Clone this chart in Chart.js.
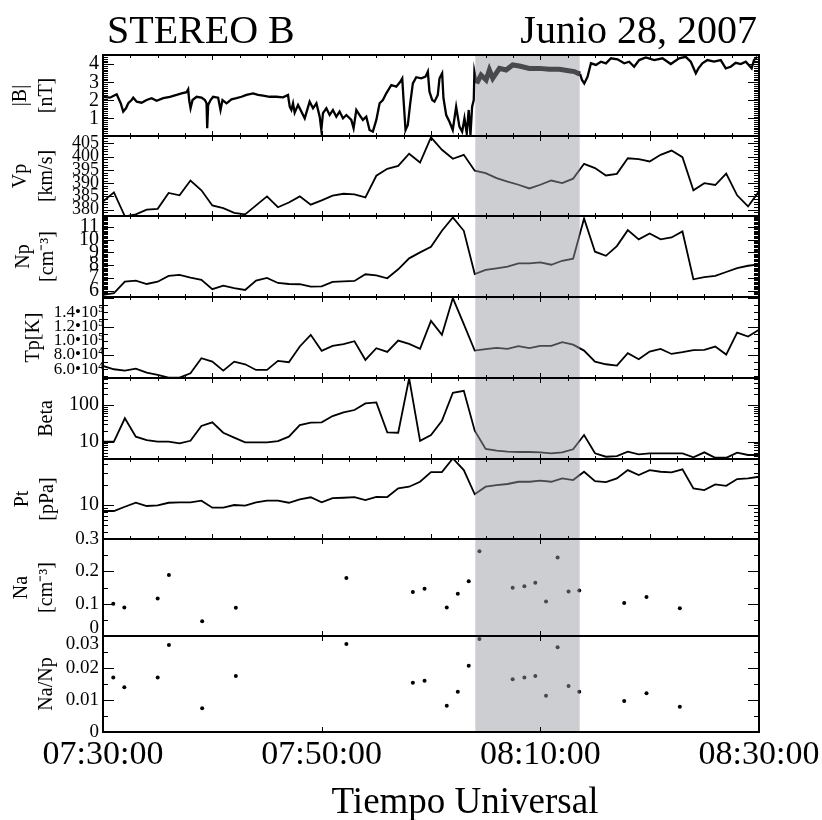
<!DOCTYPE html>
<html><head><meta charset="utf-8">
<script src="https://cdn.jsdelivr.net/npm/chart.js@4.4.1/dist/chart.umd.min.js"></script>
<style>html,body{margin:0;padding:0;background:#fff;}canvas{display:block;}</style>
</head><body>
<canvas id="c" width="822" height="820"></canvas>
<script>
// ---------------- DATA (minutes after 07:30:00 UT) ----------------
const MINUTES = [0,1,2,3,4,5,6,7,8,9,10,11,12,13,14,15,16,17,18,19,20,21,22,23,24,25,26,27,28,29,30,
  31,32,33,34,35,36,37,38,39,40,41,42,43,44,45,46,47,48,49,50,51,52,53,54,55,56,57,58,59,60];

const B_T = [0,0.64,1.25,1.62,1.85,2.10,2.31,2.62,2.77,3.08,3.53,3.99,4.45,4.90,5.51,6.12,6.73,7.19,7.64,7.79,
  7.88,8.01,8.19,8.56,9.01,9.32,9.47,9.53,9.62,9.84,10.07,10.53,10.75,10.93,11.30,11.75,12.21,12.67,13.12,13.73,
  14.18,14.64,15.25,15.86,16.47,16.92,17.08,17.23,17.38,17.53,17.84,18.45,18.90,19.21,19.52,19.82,19.97,20.12,20.43,20.73,
  21.03,21.34,21.64,21.95,22.26,22.71,22.92,23.17,23.47,23.77,24.08,24.38,24.68,25.00,25.30,25.60,25.91,26.37,26.82,27.19,
  27.37,27.49,27.67,27.88,28.10,28.34,28.65,29.11,29.50,29.71,29.86,30.11,30.32,30.62,30.78,31.02,31.14,31.39,31.69,31.99,
  32.30,32.60,32.85,33.06,33.27,33.45,33.61,33.76,33.91,33.97,34.18,34.58,35.04,35.34,35.65,36.26,36.87,37.47,38.08,39.00,
  39.91,40.82,41.74,42.58,43.11,43.41,43.63,43.81,44.02,44.32,44.63,45.09,45.54,46.00,46.46,47.06,47.67,48.13,48.58,49.04,
  49.65,50.41,51.17,51.93,52.69,53.30,53.76,54.22,54.46,54.82,55.28,55.89,56.50,56.96,57.41,57.87,58.33,58.79,59.33,59.54,59.84];
const B_VAL = [2.20,2.15,2.34,1.84,1.38,1.56,1.84,2.02,2.15,1.93,1.87,2.02,2.12,1.98,2.12,2.20,2.30,2.39,2.45,2.61,
  2.02,1.56,2.02,2.20,2.15,2.02,1.84,0.46,1.75,2.02,2.20,2.15,1.47,2.02,1.84,2.06,2.12,2.20,2.30,2.39,
  2.30,2.26,2.20,2.20,2.17,2.30,1.65,1.47,1.84,1.32,1.75,1.01,1.93,1.56,1.84,1.10,0.36,1.29,1.56,1.19,
  1.47,1.10,1.38,1.01,1.19,0.92,0.46,1.47,1.19,0.92,1.10,0.36,0.27,0.92,1.84,2.02,2.39,2.85,2.76,3.03,
  3.22,2.02,0.36,0.64,1.84,2.94,3.28,3.22,3.31,3.59,2.48,2.02,1.93,2.30,3.22,3.50,2.12,1.19,0.82,0.36,
  1.65,0.55,0.27,1.01,0.18,1.47,0.09,1.65,2.02,3.59,2.94,3.40,3.13,3.68,3.22,3.77,3.68,3.96,3.90,3.77,
  3.77,3.72,3.72,3.64,3.59,3.50,3.46,3.13,2.94,3.31,4.05,3.96,4.14,4.05,4.33,4.27,4.05,4.14,3.86,4.23,
  4.38,4.23,4.33,4.01,4.33,4.41,4.14,3.50,3.77,4.05,4.23,4.14,4.23,3.77,3.86,4.08,4.01,4.14,3.77,4.23,4.41];

const VP = [383.1,386.5,377.5,378.2,380.0,380.3,386.3,385.4,391.0,387.3,381.6,380.6,378.8,378.2,381.6,385.0,380.9,382.7,385.0,381.9,
  383.5,385.3,386.0,385.8,384.6,392.8,395.4,396.5,401.1,397.8,407.3,402.6,399.2,400.7,394.7,393.8,391.9,390.6,389.4,388.0,
  389.4,391.0,390.0,391.7,397.3,395.7,392.9,393.5,399.4,399.1,398.2,400.7,402.3,399.8,387.3,390.0,389.3,393.6,385.4,381.2,386.9];
const NP = [5.66,5.80,6.70,6.78,6.52,6.70,7.15,7.23,7.02,6.84,6.11,6.39,6.19,6.05,6.78,6.99,6.60,6.52,6.50,6.31,
  6.34,6.68,6.73,6.76,7.28,7.20,6.97,7.67,8.53,9.00,9.44,10.69,11.73,10.69,7.30,7.62,7.75,7.88,8.14,8.14,
  8.22,8.03,8.34,8.50,11.66,9.05,8.73,9.49,10.74,10.02,10.48,10.02,10.17,10.64,6.89,7.05,7.15,7.46,7.77,7.95,8.06];
const TP = [64600,60000,58000,60800,55200,52000,48200,48200,54400,75500,70700,58000,70700,67000,59000,59000,71700,69900,92000,108300,
  85800,92800,95200,99400,73100,89600,84400,100300,95600,88600,128000,108300,160000,123400,86200,88200,90000,88600,92400,89600,
  92800,92800,98000,94600,86200,70700,67000,65100,82500,74100,84800,88600,81500,83900,86800,87200,91800,80600,111500,105900,115400];
const BETA = [10.0,10.0,43.5,13.7,11.1,10.0,10.0,9.0,10.6,26.8,33.8,17.6,12.9,9.6,9.6,9.6,10.4,13.7,28.5,33.0,
  33.8,50.1,63.2,73.1,111,118,18.0,17.6,535,10.6,15.2,37.3,216,245,20.0,6.33,5.69,5.34,5.24,5.24,
  5.14,4.83,5.14,6.21,15.2,4.83,3.90,4.07,5.34,4.54,4.83,4.83,4.83,4.83,3.76,5.14,3.66,3.66,5.01,4.35,4.35];
const PT = [8.16,8.16,9.44,10.8,9.67,9.90,10.8,10.96,10.96,11.6,9.13,9.13,10.0,9.77,10.96,11.6,11.6,10.8,12.1,13.0,
  10.96,12.6,12.8,13.1,11.8,13.2,13.1,17.6,18.6,22.0,30.5,30.5,48.6,32.7,14.4,18.6,19.7,20.4,22.0,22.0,
  22.8,22.0,24.7,23.3,30.9,22.5,21.8,24.7,32.7,27.6,32.7,30.9,30.3,33.5,17.6,16.6,20.1,19.2,24.1,24.7,26.1];

const NA_T = [0.94,1.95,5.00,6.03,9.07,12.15,22.26,28.34,29.41,31.44,32.45,33.45,34.43,37.47,38.54,39.54,40.52,41.58,42.58,43.56,47.67,49.71,52.76];
const NA   = [0.100,0.088,0.116,0.189,0.046,0.087,0.179,0.136,0.146,0.088,0.131,0.169,0.262,0.149,0.154,0.165,0.107,0.243,0.138,0.141,0.102,0.121,0.086];
const NANP = [0.0170,0.0140,0.0170,0.0272,0.0074,0.0175,0.0275,0.0154,0.0160,0.0082,0.0126,0.0207,0.0291,0.0165,0.0170,0.0175,0.0113,0.0265,0.0144,0.0126,0.0097,0.0121,0.0079];

const X_TICKS  = [0,20,40,60];
const X_LABELS = ['07:30:00','07:50:00','08:10:00','08:30:00'];
const SHADE = [34.05, 43.6];

const B_TICKS = [1,2,3,4];
const VP_TICKS = [380,385,390,395,400,405];
const NP_TICKS = [6,7,8,9,10,11];
const TP_TICKS = [60000,80000,100000,120000,140000];
const TP_LABELS = ['6.0\u202210\u2074','8.0\u202210\u2074','1.0\u202210\u2075','1.2\u202210\u2075','1.4\u202210\u2075'];
const BETA_TICKS = [10,100];
const PT_TICKS = [10];
const NA_TICKS = [0,0.1,0.2,0.3];
const NANP_TICKS = [0,0.01,0.02,0.03];

// ---------------- STYLE / LAYOUT ----------------
const FONT = "'Liberation Serif','Times New Roman',Times,serif";
function seq(a,b,s){const r=[];for(let v=a;v<=b+1e-9;v+=s)r.push(+v.toFixed(6));return r;}
const logMinor = (decades)=>{const r=[];decades.forEach(d=>{for(let k=2;k<=9;k++)r.push(k*d);});return r;};
const X_MINOR = seq(2.5,57.5,2.5);
const X_MID = [10,20,30,40,50];

const PANELS = [
 {id:'yB',   h:81, min:0.03, max:4.51, labels:B_TICKS, fs:20, titles:[['|B|',21],['[nT]',47]],
  major:B_TICKS, minor:seq(0.1,4.5,0.1), fmt:v=>String(v)},
 {id:'yVp',  h:80, min:377.6, max:407.8, labels:VP_TICKS, fs:18, titles:[['Vp',21],['[km/s]',47]],
  major:VP_TICKS, minor:seq(378,407,1), fmt:v=>String(v)},
 {id:'yNp',  h:81, min:5.5, max:11.85, labels:NP_TICKS, fs:20, titles:[['Np',24],['[cm\u207B\u00B3]',48]],
  major:NP_TICKS, minor:seq(5.6,11.8,0.1), fmt:v=>String(v)},
 {id:'yTp',  h:81, min:47700, max:161500, labels:TP_TICKS, fs:17, pad:-1, titles:[['Tp[K]',34]],
  major:[80000,120000,160000], minor:seq(50000,160000,10000), fmt:(v,i)=>TP_LABELS[i]},
 {id:'yBeta',h:81, min:3.38, max:545, log:true, labels:BETA_TICKS, fs:20, titles:[['Beta',47]],
  major:BETA_TICKS, minor:logMinor([1,10,100]).filter(v=>v>=4&&v<=500), fmt:v=>String(v)},
 {id:'yPt',  h:80, min:3.16, max:47.6, log:true, labels:PT_TICKS, fs:20, titles:[['Pt',23],['[pPa]',48]],
  major:PT_TICKS, minor:[4,5,6,7,8,9,20,30,40], fmt:v=>String(v)},
 {id:'yNa',  h:97, min:0, max:0.3, labels:NA_TICKS, fs:19, lh:0.8, titles:[['Na',22],['[cm\u207B\u00B3]',47]],
  major:[0.1,0.2], minor:[0.05,0.15,0.25], xt:[20,40], fmt:v=>v===0?['0','']:String(v)},
 {id:'yNaNp',h:96, min:0, max:0.03, labels:NANP_TICKS, fs:19, lh:0.8, titles:[['Na/Np',47]],
  major:[0.01,0.02], minor:[0.005,0.015,0.025], xt:[20,40], fmt:v=>v===0.03?['','0.03']:String(v)}
];

function yAxis(p,i){
  return {
    type:p.log?'logarithmic':'linear', position:'left', stack:'panels', stackWeight:p.h, weight:20-i,
    min:p.min, max:p.max, offset:false,
    grid:{display:false,drawTicks:false}, border:{display:false},
    ticks:{autoSkip:false,color:'#000',padding:(p.pad!==undefined?p.pad:4),
      font:{family:FONT,size:p.fs,lineHeight:p.lh||1.2}, callback:(v,idx)=>p.fmt(v,idx)},
    afterBuildTicks:s=>{s.ticks=p.labels.map(v=>({value:v}));},
    afterFit:s=>{s.width=103;}
  };
}
const scales = {
  x:{type:'linear',position:'bottom',min:0,max:60,offset:false,
    grid:{display:false,drawTicks:false},border:{display:false},
    ticks:{autoSkip:false,maxRotation:0,minRotation:0,color:'#000',padding:3,font:{family:FONT,size:34},
      callback:(v,i)=>X_LABELS[i]},
    afterBuildTicks:s=>{s.ticks=X_TICKS.map(v=>({value:v}));},
    afterFit:s=>{s.height=88;s.paddingLeft=0;s.paddingRight=0;}}
};
PANELS.forEach((p,i)=>{scales[p.id]=yAxis(p,i);});

const xy = (ts,vs)=>ts.map((t,i)=>({x:t,y:vs[i]}));
const lineDs = (id,data,extra)=>Object.assign({type:'line',data,yAxisID:id,xAxisID:'x',borderColor:'#000',
  borderWidth:1.8,pointRadius:0,tension:0,fill:false},extra||{});
const dotDs = (id,data)=>({type:'scatter',data,yAxisID:id,xAxisID:'x',pointRadius:2,pointBorderWidth:0,
  pointBackgroundColor:'#000',showLine:false});

const inShade = c=>c.p0.parsed.x>=SHADE[0]&&c.p1.parsed.x<=SHADE[1]+0.05;

const datasets = [
  lineDs('yB',xy(B_T,B_VAL),{borderWidth:2.3,segment:{borderWidth:c=>inShade(c)?5:2.3}}),
  lineDs('yVp',xy(MINUTES,VP)),
  lineDs('yNp',xy(MINUTES,NP)),
  lineDs('yTp',xy(MINUTES,TP)),
  lineDs('yBeta',xy(MINUTES,BETA)),
  lineDs('yPt',xy(MINUTES,PT)),
  dotDs('yNa',xy(NA_T,NA)),
  dotDs('yNaNp',xy(NA_T,NANP))
];

const deco = {
  id:'deco',
  beforeDraw(chart){const c=chart.ctx;c.save();c.fillStyle='#fff';c.fillRect(0,0,chart.width,chart.height);c.restore();},
  afterDatasetsDraw(chart){
    const ctx=chart.ctx, ca=chart.chartArea, xs=chart.scales.x, L=ca.left, R=ca.right;
    ctx.save();
    const x0=xs.getPixelForValue(SHADE[0]), x1=xs.getPixelForValue(SHADE[1]);
    ctx.fillStyle='rgba(150,152,158,0.48)';
    ctx.fillRect(x0,ca.top,x1-x0,ca.bottom-ca.top);
    ctx.strokeStyle='#000';
    PANELS.forEach(p=>{
      const s=chart.scales[p.id], T=s.top, Bt=s.bottom;
      ctx.lineWidth=1; ctx.beginPath();
      const yt=(v,len)=>{if(v<p.min||v>p.max)return;const y=Math.round(s.getPixelForValue(v))+0.5;
        ctx.moveTo(L,y);ctx.lineTo(L+len,y);ctx.moveTo(R,y);ctx.lineTo(R-len,y);};
      p.minor.forEach(v=>yt(v,5)); p.major.forEach(v=>yt(v,11));
      const xt=(v,len)=>{const x=Math.round(xs.getPixelForValue(v))+0.5;
        ctx.moveTo(x,T);ctx.lineTo(x,T+len);ctx.moveTo(x,Bt);ctx.lineTo(x,Bt-len);};
      if(p.xt){p.xt.forEach(v=>xt(v,5));}
      else{X_MINOR.forEach(v=>xt(v,3));X_MID.forEach(v=>xt(v,5));}
      ctx.stroke();
      ctx.lineWidth=2; ctx.strokeRect(L,T,R-L,Bt-T);
      ctx.fillStyle='#000'; ctx.font='20px '+FONT; ctx.textAlign='center'; ctx.textBaseline='middle';
      const yc=(T+Bt)/2;
      p.titles.forEach(([txt,x])=>{ctx.save();ctx.translate(x,yc);ctx.rotate(-Math.PI/2);ctx.fillText(txt,0,0);ctx.restore();});
    });
    ctx.fillStyle='#000'; ctx.textBaseline='alphabetic';
    ctx.font='40px '+FONT;
    ctx.textAlign='left'; ctx.fillText('STEREO B',107,43);
    ctx.textAlign='right'; ctx.fillText('Junio 28, 2007',757,43);
    ctx.font='37px '+FONT; ctx.textAlign='center';
    ctx.fillText('Tiempo Universal',465,813);
    ctx.restore();
  }
};

new Chart(document.getElementById('c'),{
  type:'line',
  data:{datasets},
  options:{responsive:false,animation:false,events:[],
    layout:{padding:{top:55,right:63,left:0,bottom:0}},
    plugins:{legend:{display:false},tooltip:{enabled:false},title:{display:false}},
    scales},
  plugins:[deco]
});
</script>
</body></html>
